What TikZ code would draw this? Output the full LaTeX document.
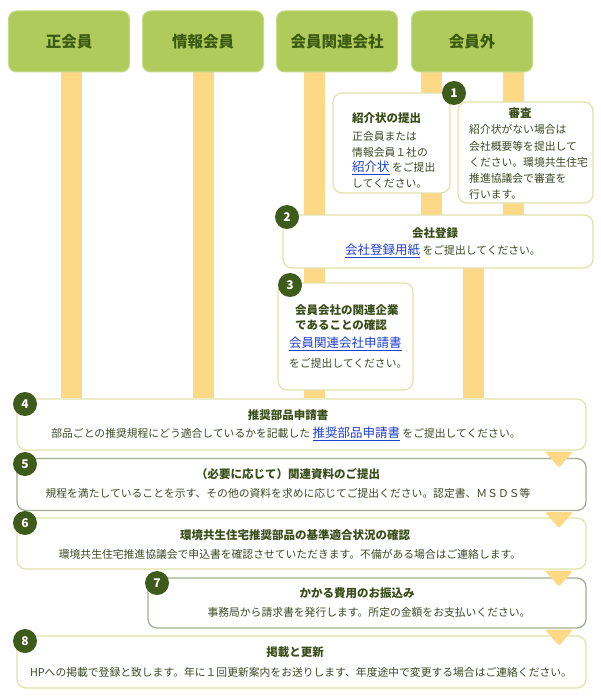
\documentclass[tikz,border=0pt]{standalone}
\usepackage{fontspec}
\newfontfamily\jp{Noto Sans CJK JP}
\usetikzlibrary{backgrounds}
\definecolor{headgreen}{HTML}{AFCB5C}
\definecolor{headtext}{HTML}{3B5A12}
\definecolor{poleyel}{HTML}{FDD985}
\definecolor{boxline}{HTML}{E1E3AA}
\definecolor{boxdark}{HTML}{A3AE90}
\definecolor{badgegreen}{HTML}{3E5B1B}
\definecolor{ttltext}{HTML}{394D19}
\definecolor{bodytext}{HTML}{3B4A24}
\definecolor{linkblue}{HTML}{1E40CF}
\newcommand\lk[1]{{\color{linkblue}\fontsize{12.5}{14}\selectfont\underline{#1}}}
\tikzset{every node/.style={inner sep=0pt},
  head/.style={fill=headgreen, draw=headgreen!70!white, line width=1pt, rounded corners=8pt,
    minimum width=121pt, minimum height=61pt, text=headtext, font=\jp\bfseries\fontsize{15.5}{15.5}\selectfont},
  pole/.style={draw=poleyel, line width=21pt},
  box/.style={draw=boxline, fill=white, line width=1.3pt, rounded corners=9pt},
  dbox/.style={box, draw=boxdark},
  badge/.style={circle, fill=badgegreen, minimum size=24pt, text=white, font=\jp\bfseries\fontsize{12}{12}\selectfont},
  ttl/.style={text=ttltext, font=\jp\bfseries\fontsize{11.5}{14}\selectfont},
  txt/.style={text=bodytext, font=\jp\fontsize{10.8}{14}\selectfont},
  tri/.style={fill=poleyel, rounded corners=1.5pt}}

\begin{document}
\begin{tikzpicture}[x=1pt,y=-1pt]
  \useasboundingbox (0,0) rectangle (600,700);
  \node[head] (h1) at ( 69,41.5) {正会員};
  \node[head] (h2) at (203,41.5) {情報会員};
  \node[head] (h3) at (337,41.5) {会員関連会社};
  \node[head] (h4) at (472,41.5) {会員外};

  \node[box, minimum width=117pt, minimum height=100pt] (s1a) at (391.5,143) {};
  \node[box, minimum width=135pt, minimum height=101pt] (s1b) at (525.5,152.5) {};
  \node[box, minimum width=310pt, minimum height=53pt]  (s2) at (438,241.5) {};
  \node[box, minimum width=135pt, minimum height=107pt] (s3) at (345.5,336.5) {};
  \node[box, minimum width=569pt, minimum height=51pt]  (s4) at (301.5,424.5) {};
  \node[dbox,minimum width=569pt, minimum height=52pt]  (s5) at (301.5,484.5) {};
  \node[box, minimum width=569pt, minimum height=51pt]  (s6) at (301.5,543.5) {};
  \node[dbox,minimum width=438pt, minimum height=50pt]  (s7) at (367,603) {};
  \node[box, minimum width=569pt, minimum height=52pt]  (s8) at (301.5,662) {};

  \coordinate (p1) at ( 71,0);
  \coordinate (p2) at (203,0);
  \coordinate (p3) at (314,0);
  \coordinate (p4) at (431,0);
  \coordinate (p5) at (513,0);
  \coordinate (p6) at (473,0);
  \coordinate (q)  at (559,0);
  \begin{scope}[on background layer]
    \draw[pole] (h1.south -| p1) -- (s4.north -| p1);
    \draw[pole] (h2.south -| p2) -- (s4.north -| p2);
    \draw[pole] (h3.south -| p3) -- (s4.north -| p3);
    \draw[pole] (h4.south -| p4) -- (s2.center -| p4);
    \draw[pole] (h4.south -| p5) -- (s2.center -| p5);
    \draw[pole] (s2.center -| p6) -- (s4.north -| p6);
  \end{scope}

  \fill[tri] (s4.south -| q) ++(-14,1) -- ++(28,0) -- ++(-14,16) -- cycle;
  \fill[tri] (s5.south -| q) ++(-14,1) -- ++(28,0) -- ++(-14,16) -- cycle;
  \fill[tri] (s6.south -| q) ++(-14,1) -- ++(28,0) -- ++(-14,16) -- cycle;
  \fill[tri] (s7.south -| q) ++(-14,1) -- ++(28,0) -- ++(-14,16) -- cycle;

  \node[badge] (b1) at (454, 93) {1};
  \node[badge] (b2) at (287,217) {2};
  \node[badge] (b3) at (290,285) {3};
  \node[badge] (b4) at ( 25,404) {4};
  \node[badge] (b5) at ( 25,464) {5};
  \node[badge] (b6) at ( 25,523) {6};
  \node[badge] (b7) at (157,583) {7};
  \node[badge] (b8) at ( 25,641) {8};

  \node[ttl,anchor=west] (a1) at (352,118) {紹介状の提出};
  \node[txt,anchor=west] (a2) at (352,136) {正会員または};
  \node[txt,anchor=west] (a3) at (352,152) {情報会員１社の};
  \node[txt,anchor=west] (a4) at (352,168) {\lk{紹介状} をご提出};
  \node[txt,anchor=west] (a5) at (352,184) {してください。};

  \node[ttl] (c1) at (520,113) {審査};
  \node[txt,anchor=west] (c2) at (469,129) {紹介状がない場合は};
  \node[txt,anchor=west] (c3) at (469,146) {会社概要等を提出して};
  \node[txt,anchor=west] (c4) at (469,162) {ください。環境共生住宅};
  \node[txt,anchor=west] (c5) at (469,178) {推進協議会で審査を};
  \node[txt,anchor=west] (c6) at (469,194) {行います。};

  \node[ttl] (d1) at (435,233) {会社登録};
  \node[txt] (d2) at (443,251) {\lk{会社登録用紙} をご提出してください。};

  \node[ttl,anchor=west] (e1) at (295,310) {会員会社の関連企業};
  \node[ttl,anchor=west] (e2) at (295,325) {であることの確認};
  \node[txt,anchor=west] (e3) at (289,344) {\lk{会員関連会社申請書}};
  \node[txt,anchor=west] (e4) at (289,363) {をご提出してください。};

  \node[ttl] (f1) at (288,415) {推奨部品申請書};
  \node[txt] (f2) at (286,434) {部品ごとの推奨規程にどう適合しているかを記載した \lk{推奨部品申請書} をご提出してください。};
  \node[ttl] (g1) at (288,474) {（必要に応じて）関連資料のご提出};
  \node[txt] (g2) at (288,493) {規程を満たしていることを示す、その他の資料を求めに応じてご提出ください。認定書、ＭＳＤＳ等};
  \node[ttl] (i1) at (295,535) {環境共生住宅推奨部品の基準適合状況の確認};
  \node[txt] (i2) at (290,554) {環境共生住宅推進協議会で申込書を確認させていただきます。不備がある場合はご連絡します。};
  \node[ttl] (j1) at (357,593) {かかる費用のお振込み};
  \node[txt] (j2) at (369,612) {事務局から請求書を発行します。所定の金額をお支払いください。};
  \node[ttl] (k1) at (295,652) {掲載と更新};
  \node[txt] (k2) at (301,672) {HPへの掲載で登録と致します。年に１回更新案内をお送りします、年度途中で変更する場合はご連絡ください。};
\end{tikzpicture}
\end{document}
